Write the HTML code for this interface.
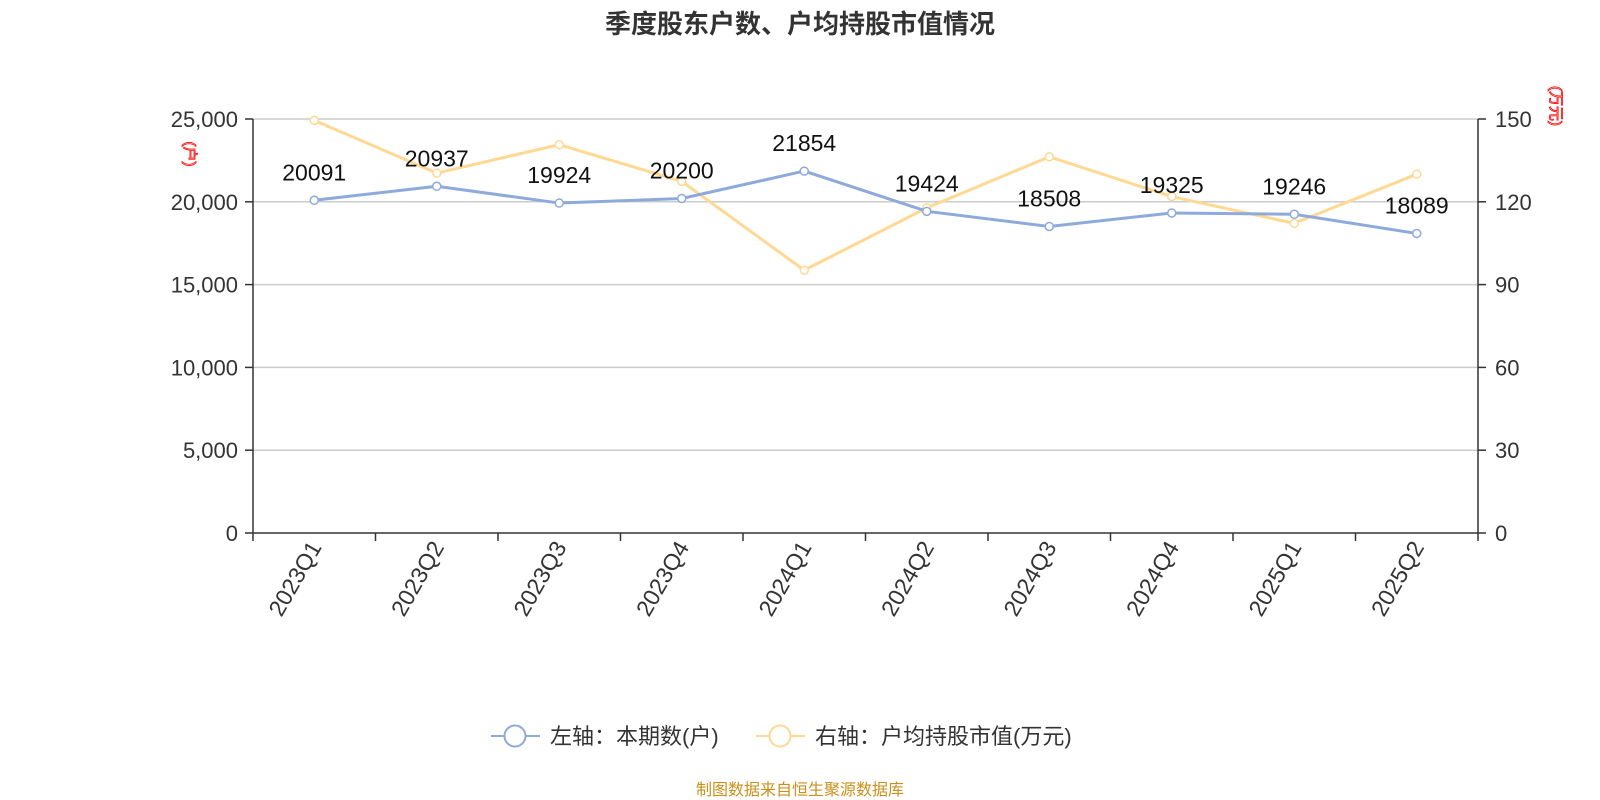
<!DOCTYPE html>
<html><head><meta charset="utf-8"><style>
body{margin:0;background:#fff;}
svg{display:block;font-family:"Liberation Sans","Noto Sans CJK SC",sans-serif;}
</style></head><body>
<svg id="chart" width="1600" height="800" xmlns="http://www.w3.org/2000/svg">
<text x="800" y="33" text-anchor="middle" font-size="26" font-weight="bold" fill="#333">季度股东户数、户均持股市值情况</text>
<g id="grid"></g>
<g id="axes"></g>
<g id="series"></g>
<text transform="translate(185,154) rotate(90)" font-size="15" fill="none" stroke="red" stroke-width="0.8" text-anchor="middle">(户)</text>
<text transform="translate(1551,106) rotate(90)" font-size="15" fill="none" stroke="red" stroke-width="0.8" text-anchor="middle">(万元)</text>
<g>
<g>
<line x1="491" y1="736" x2="540" y2="736" stroke="#8eaadb" stroke-width="2"/>
<circle cx="515" cy="736" r="10.5" fill="#fff" stroke="#8eaadb" stroke-width="2"/>
<text x="550" y="744" font-size="22" fill="#333">左轴：本期数(户)</text>
</g>
<g>
<line x1="756" y1="736" x2="805" y2="736" stroke="#ffd993" stroke-width="2"/>
<circle cx="780" cy="736" r="10.5" fill="#fff" stroke="#ffd993" stroke-width="2"/>
<text x="815" y="744" font-size="22" fill="#333">右轴：户均持股市值(万元)</text>
</g>
</g>
<text x="800" y="795" text-anchor="middle" font-size="16" fill="#c8901a">制图数据来自恒生聚源数据库</text>
</svg>
<script>
const categories=["2023Q1","2023Q2","2023Q3","2023Q4","2024Q1","2024Q2","2024Q3","2024Q4","2025Q1","2025Q2"];
const holders=[20091,20937,19924,20200,21854,19424,18508,19325,19246,18089];
const avgValue=[149.5,130.4,140.7,127.4,95.2,117.8,136.3,121.9,112.2,130];
const leftTicks=[0,5000,10000,15000,20000,25000];
const rightTicks=[0,30,60,90,120,150];
const X0=253,X1=1478,Y0=533,Y1=119;
const NS="http://www.w3.org/2000/svg";
const bw=(X1-X0)/categories.length;
const xc=i=>X0+bw*(i+0.5);
const yl=v=>Y0-(v/25000)*(Y0-Y1);
const yr=v=>Y0-(v/150)*(Y0-Y1);
function mk(tag,attrs,parent,txt){const e=document.createElementNS(NS,tag);for(const k in attrs)e.setAttribute(k,attrs[k]);if(txt!==undefined)e.textContent=txt;parent.appendChild(e);return e;}
const grid=document.getElementById('grid'),axes=document.getElementById('axes'),series=document.getElementById('series');
leftTicks.forEach((t,i)=>{const y=yl(t);
 if(t>0){const g=mk('line',{x1:X0,x2:X1,y1:y,y2:y,stroke:'#ccc','stroke-width':1.5},grid);
 
 }
 mk('line',{x1:X0-8,x2:X0,y1:y,y2:y,stroke:'#333','stroke-width':1.5},axes);
 const lt=mk('text',{x:X0-15,y:y+8,'text-anchor':'end','font-size':22,fill:'#333'},axes,t.toLocaleString('en-US'));
 
 
 const yy=yr(rightTicks[i]);
 mk('line',{x1:X1,x2:X1+8,y1:yy,y2:yy,stroke:'#333','stroke-width':1.5},axes);
 const rt=mk('text',{x:X1+17,y:yy+8,'font-size':22,fill:'#333'},axes,rightTicks[i]);
 
 
});
mk('line',{x1:X0,x2:X0,y1:Y1,y2:Y0,stroke:'#333','stroke-width':1.5},axes);
mk('line',{x1:X1,x2:X1,y1:Y1,y2:Y0,stroke:'#333','stroke-width':1.5},axes);
mk('line',{x1:X0,x2:X1,y1:Y0,y2:Y0,stroke:'#333','stroke-width':1.5},axes);
for(let i=0;i<=categories.length;i++){const x=X0+bw*i;mk('line',{x1:x,x2:x,y1:Y0,y2:Y0+8,stroke:'#333','stroke-width':1.5},axes);}
categories.forEach((c,i)=>{const x=xc(i);
 const t=mk('text',{transform:`translate(${x+8},${Y0+14}) rotate(-60)`,'text-anchor':'end','font-size':23,fill:'#333'},axes,c);
 
 
});
function line(vals,fy,color,name){
 const p=mk('polyline',{points:vals.map((v,i)=>xc(i)+','+fy(v)).join(' '),fill:'none',stroke:color,'stroke-width':3},series);
 
 
 vals.forEach((v,i)=>{const c=mk('circle',{cx:xc(i),cy:fy(v),r:4,fill:'#fff',stroke:color,'stroke-width':1.5},series);
 
 });
}
line(avgValue,yr,'#ffd993','avg-value');
line(holders,yl,'#8eaadb','holders');
holders.forEach((v,i)=>{const t=mk('text',{x:xc(i),y:yl(v)-20,'text-anchor':'middle','font-size':23,fill:'#111'},series,v);
 
 });
</script>
</body></html>
